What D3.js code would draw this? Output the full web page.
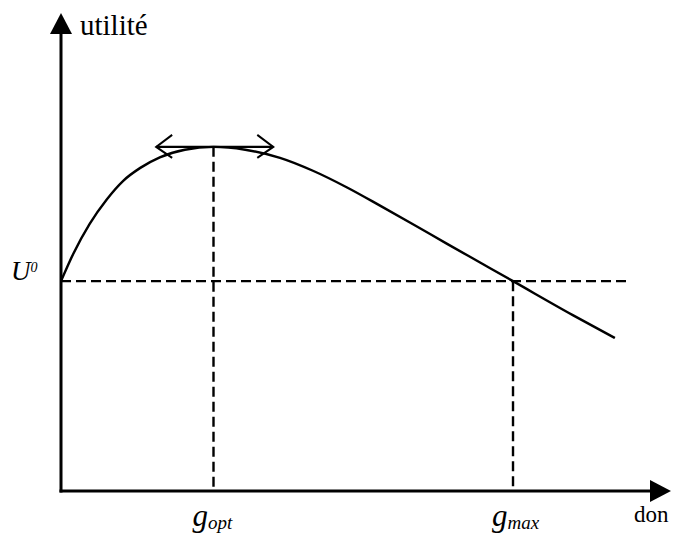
<!DOCTYPE html>
<html>
<head>
<meta charset="utf-8">
<script src="https://cdn.jsdelivr.net/npm/d3@7"></script>
<style>
  html, body { margin: 0; padding: 0; background: #fff; }
  svg { display: block; }
</style>
</head>
<body>
<script>
// ---- data ----
const don     = [0, 0.2, 0.47, 0.75, 1.02, 1.3, 1.62, 2.03, 2.5, 3.02, 3.59, 4.13, 4.69, 5.23, 5.77, 6.33, 6.87, 7.41, 8.39, 9.08];
const utilite = [43.9, 49.6, 55.9, 61.0, 64.9, 67.6, 69.8, 71.4, 72.0, 71.4, 69.7, 67.0, 63.5, 59.7, 55.8, 51.7, 47.8, 43.9, 36.8, 32.0];
const gOpt = 2.5;
const gMax = 7.41;
const U0 = 43.9;
const Uopt = 72.0;
const tangentRange = [1.56, 3.48];
const u0End = 9.33;
const labels = { y: "utilité", x: "don", u0: "U", u0sup: "0", gopt: ["g", "opt"], gmax: ["g", "max"] };

const FONT = "Liberation Serif";
const W = 674, H = 542;
const x = d3.scaleLinear().domain([0, 10]).range([61, 671]);
const y = d3.scaleLinear().domain([0, 100]).range([491, 13]);

const svg = d3.select("body").append("svg").attr("width", W).attr("height", H);

// axes
const x0 = x(0), y0 = y(0);
svg.append("line").attr("x1", x0).attr("y1", y0 + 1.5).attr("x2", x0).attr("y2", y(100) + 18)
  .attr("stroke", "#000").attr("stroke-width", 3);
svg.append("path")
  .attr("d", `M${x0},${y(100)} L${x0 - 11},${y(100) + 21} L${x0 + 11},${y(100) + 21} Z`)
  .attr("fill", "#000");
svg.append("line").attr("x1", x0 - 1.5).attr("y1", y0).attr("x2", x(10) - 18).attr("y2", y0)
  .attr("stroke", "#000").attr("stroke-width", 3);
svg.append("path")
  .attr("d", `M${x(10)},${y0} L${x(10) - 21},${y0 - 11} L${x(10) - 21},${y0 + 11} Z`)
  .attr("fill", "#000");

// dashed guides
const dash = "10,5";
svg.append("line").attr("x1", x0).attr("y1", y(U0)).attr("x2", x(u0End)).attr("y2", y(U0))
  .attr("stroke", "#000").attr("stroke-width", 2.4).attr("stroke-dasharray", dash);
svg.append("line").attr("x1", x(gOpt)).attr("y1", y(Uopt)).attr("x2", x(gOpt)).attr("y2", y0)
  .attr("stroke", "#000").attr("stroke-width", 2.4).attr("stroke-dasharray", dash);
svg.append("line").attr("x1", x(gMax)).attr("y1", y(U0)).attr("x2", x(gMax)).attr("y2", y0)
  .attr("stroke", "#000").attr("stroke-width", 2.4).attr("stroke-dasharray", dash);

// curve
const pts = don.map((d, i) => [d, utilite[i]]);
svg.append("path")
  .datum(pts)
  .attr("d", d3.line().x(d => x(d[0])).y(d => y(d[1])).curve(d3.curveMonotoneX))
  .attr("fill", "none").attr("stroke", "#000").attr("stroke-width", 2.4);

// tangent double arrow
const tx1 = x(tangentRange[0]), tx2 = x(tangentRange[1]), ty = y(Uopt);
svg.append("line").attr("x1", tx1).attr("y1", ty).attr("x2", tx2).attr("y2", ty)
  .attr("stroke", "#000").attr("stroke-width", 2.4);
svg.append("path")
  .attr("d", `M${tx1 + 16},${ty - 12} L${tx1},${ty} L${tx1 + 16},${ty + 11}`)
  .attr("fill", "none").attr("stroke", "#000").attr("stroke-width", 2);
svg.append("path")
  .attr("d", `M${tx2 - 16},${ty - 12} L${tx2},${ty} L${tx2 - 16},${ty + 11}`)
  .attr("fill", "none").attr("stroke", "#000").attr("stroke-width", 2);

// labels
svg.append("text").attr("x", x0 + 19).attr("y", 35).style("font-family", FONT).attr("font-size", 29).text(labels.y);
svg.append("text").attr("x", x(10) - 37).attr("y", 522).style("font-family", FONT).attr("font-size", 23).text(labels.x);

const u = svg.append("text").attr("x", 11).attr("y", 280).style("font-family", FONT)
  .attr("font-size", 27).attr("font-style", "italic");
u.append("tspan").text(labels.u0);
u.append("tspan").attr("font-size", 14).attr("dy", -8).text(labels.u0sup);

function gLabel(val, parts) {
  const t = svg.append("text").attr("x", x(val) - 21).attr("y", 526).style("font-family", FONT)
    .attr("font-size", 31).attr("font-style", "italic");
  t.append("tspan").text(parts[0]);
  t.append("tspan").attr("font-size", 19).attr("dy", 3).text(parts[1]);
}
gLabel(gOpt, labels.gopt);
gLabel(gMax, labels.gmax);
</script>
</body>
</html>
